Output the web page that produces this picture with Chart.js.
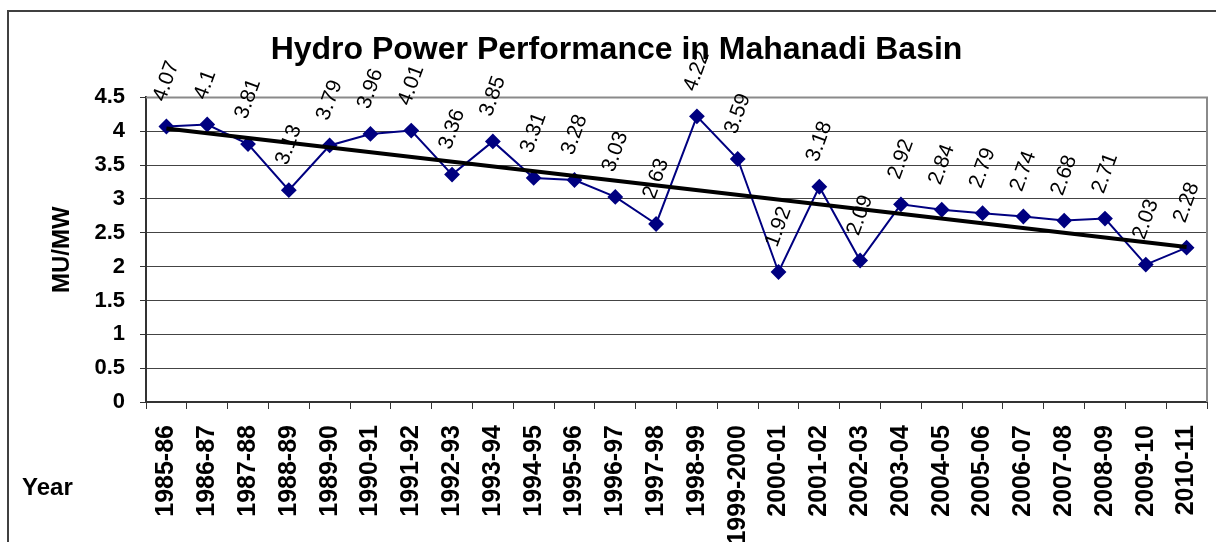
<!DOCTYPE html>
<html>
<head>
<meta charset="utf-8">
<script src="https://cdn.jsdelivr.net/npm/chart.js@4"></script>
<style>
  body { margin: 0; background: #fff; }
  #wrap { width: 1216px; height: 542px; position: relative; }
</style>
</head>
<body>
<div id="wrap"><canvas id="chart"></canvas></div>
<script>
const years = [
  "1985-86", "1986-87", "1987-88", "1988-89", "1989-90", "1990-91", "1991-92",
  "1992-93", "1993-94", "1994-95", "1995-96", "1996-97", "1997-98", "1998-99",
  "1999-2000", "2000-01", "2001-02", "2002-03", "2003-04", "2004-05", "2005-06",
  "2006-07", "2007-08", "2008-09", "2009-10", "2010-11"
];
const mwValues = [
  4.07, 4.1, 3.81, 3.13, 3.79, 3.96, 4.01, 3.36, 3.85, 3.31, 3.28, 3.03, 2.63,
  4.22, 3.59, 1.92, 3.18, 2.09, 2.92, 2.84, 2.79, 2.74, 2.68, 2.71, 2.03, 2.28
];
// linear trend, read at its two ends
const trendStart = 4.04;
const trendEnd = 2.29;

const FONT = '"Liberation Sans", Arial, sans-serif';

function trendData() {
  const d = years.map(() => null);
  d[0] = trendStart;
  d[d.length - 1] = trendEnd;
  return d;
}

// rotated value labels above each point
const valueLabels = {
  id: "valueLabels",
  afterDatasetsDraw(chart) {
    const meta = chart.getDatasetMeta(1);
    const ctx = chart.ctx;
    ctx.save();
    ctx.font = "21px " + FONT;
    ctx.fillStyle = "#000";
    ctx.textAlign = "left";
    ctx.textBaseline = "middle";
    meta.data.forEach((pt, i) => {
      ctx.save();
      ctx.translate(pt.x - 7, pt.y - 26);
      ctx.rotate(-70 * Math.PI / 180);
      ctx.fillText(String(mwValues[i]), 0, 0);
      ctx.restore();
    });
    ctx.restore();
  },
};

// outer frame, plot border and "Year" caption
const frame = {
  id: "frame",
  beforeDatasetsDraw(chart) {
    const { ctx, chartArea: a } = chart;
    ctx.save();
    ctx.strokeStyle = "#8a8a8a";
    ctx.lineWidth = 2;
    ctx.beginPath();
    ctx.moveTo(a.left, a.top);
    ctx.lineTo(a.right, a.top);
    ctx.lineTo(a.right, a.bottom);
    ctx.stroke();
    ctx.restore();
  },
  afterDraw(chart) {
    const ctx = chart.ctx;
    ctx.save();
    ctx.strokeStyle = "#404040";
    ctx.lineWidth = 2;
    ctx.beginPath();
    ctx.moveTo(8, chart.height + 2);
    ctx.lineTo(8, 11);
    ctx.lineTo(chart.width + 2, 11);
    ctx.stroke();
    ctx.font = "bold 24px " + FONT;
    ctx.fillStyle = "#000";
    ctx.textAlign = "left";
    ctx.textBaseline = "middle";
    ctx.fillText("Year", 22, 488);
    ctx.restore();
  },
};

function createChart() {
  const el = document.getElementById("chart");
  return new Chart(el.getContext("2d"), {
    type: "line",
    data: {
      labels: years,
      datasets: [
        {
          label: "Trend",
          data: trendData(),
          borderColor: "#000",
          borderWidth: 4,
          pointRadius: 0,
          spanGaps: true,
          order: 0,
        },
        {
          label: "MU/MW",
          data: mwValues,
          borderColor: "#000080",
          backgroundColor: "#000080",
          borderWidth: 2,
          pointStyle: "rectRot",
          pointRadius: 6.5,
          pointHoverRadius: 6.5,
          order: 1,
        },
      ],
    },
    options: {
      responsive: true,
      maintainAspectRatio: false,
      animation: false,
      layout: { padding: { left: 26, right: 9, top: 0, bottom: 0 } },
      plugins: {
        legend: { display: false },
        tooltip: { enabled: false },
        title: {
          display: true,
          text: "Hydro Power Performance in Mahanadi Basin",
          color: "#000",
          font: { family: FONT, size: 32, weight: "bold" },
          padding: { top: 31, bottom: 28 },
        },
      },
      scales: {
        x: {
          offset: true,
          afterFit(scale) {
            scale.height = 140;
            scale.paddingLeft = 0;
            scale.paddingRight = 0;
          },
          grid: {
            offset: true,
            drawOnChartArea: false,
            drawTicks: true,
            tickLength: 7,
            color: "#333",
          },
          border: { display: true, color: "#333", width: 2 },
          ticks: {
            color: "#000",
            font: { family: FONT, size: 25, weight: "bold" },
            maxRotation: 90,
            minRotation: 90,
            padding: 16,
            autoSkip: false,
          },
        },
        y: {
          min: 0,
          max: 4.5,
          afterFit(scale) { scale.width = 120; },
          title: {
            display: true,
            text: "MU/MW",
            color: "#000",
            font: { family: FONT, size: 24, weight: "bold" },
            padding: { top: 22, bottom: 0 },
          },
          grid: {
            color: (c) => (c.tick && (c.tick.value === 0 || c.tick.value === 4.5)) ? "rgba(0,0,0,0)" : "#444",
            tickColor: "#333",
            borderDash: [2, 2],
            tickLength: 6,
            lineWidth: 1,
          },
          border: { display: true, color: "#333", width: 2 },
          ticks: {
            stepSize: 0.5,
            color: "#000",
            padding: 15,
            font: { family: FONT, size: 22, weight: "bold" },
            callback: (v) => String(v),
          },
        },
      },
    },
    plugins: [frame, valueLabels],
  });
}

createChart();
</script>
</body>
</html>
